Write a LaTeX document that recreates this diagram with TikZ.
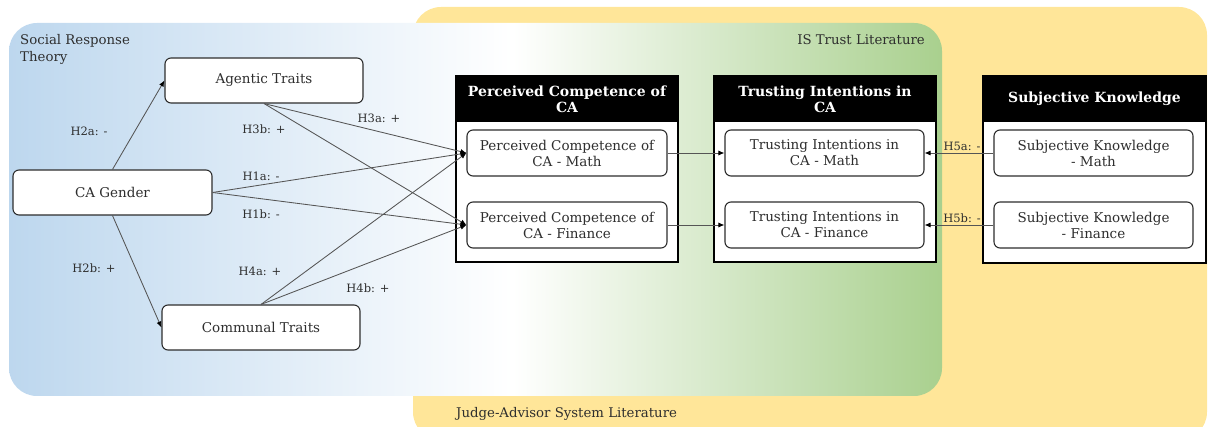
\documentclass[tikz,border=0pt]{standalone}
\usepackage{fontspec}
\setmainfont{DejaVu Serif}
\usetikzlibrary{arrows.meta}

\definecolor{bandblue}{HTML}{BDD7EE}
\definecolor{bandgreen}{HTML}{A9D08E}
\definecolor{jasyellow}{HTML}{FFE699}
\definecolor{inkgray}{HTML}{2E2E2E}
\definecolor{linegray}{HTML}{555555}

% blue -> white -> green band behind the left two research streams
\pgfdeclarehorizontalshading{trustband}{100bp}{color(0bp)=(bandblue); color(25bp)=(bandblue); color(52bp)=(white); color(75bp)=(bandgreen); color(100bp)=(bandgreen)}

\tikzset{
  basefont/.style={font=\fontsize{13.5}{16}\selectfont},
  construct/.style={basefont, draw=inkgray, line width=1.1pt, fill=white, rounded corners=6pt,
    text=inkgray, align=center, inner sep=2pt},
  groupbox/.style={draw=black, line width=1.3pt, fill=white, inner sep=0pt},
  headbox/.style={fill=black, text=white, align=center, inner sep=2pt,
    font=\fontsize{14}{16}\selectfont\bfseries},
  hyp/.style={font=\fontsize{11.5}{14}\selectfont, text=inkgray, inner sep=0pt},
  stream/.style={font=\fontsize{13.3}{17}\selectfont, text=inkgray, inner sep=0pt, align=left},
  conn/.style={draw=linegray, line width=0.85pt, -{Latex[length=6pt,width=5pt,color=black]}},
}

\begin{document}
\begin{tikzpicture}[x=1pt,y=-1pt]
\useasboundingbox (0,0) rectangle (1208,427);
\clip (0,0) rectangle (1208,427);

% research streams
\fill[jasyellow, rounded corners=28pt] (413,7) rectangle (1207,440);
\shade[shading=trustband, rounded corners=28pt] (9,23) rectangle (942,396);

\node[stream, anchor=north west] (srt) at (20,34) {Social Response\\Theory};
\node[stream, anchor=north east] (ist) at (925,34) {IS Trust Literature};
\node[stream, anchor=north west] (jas) at (456,407) {Judge-Advisor System Literature};

% group boxes with black headers
\node[groupbox, minimum width=222pt, minimum height=186pt] (pcbox) at (567,169) {};
\node[headbox, minimum width=222pt, minimum height=46pt] (pchead) at (567,99) {Perceived Competence of\\CA};
\node[groupbox, minimum width=222pt, minimum height=186pt] (tibox) at (825,169) {};
\node[headbox, minimum width=222pt, minimum height=46pt] (tihead) at (825,99) {Trusting Intentions in\\CA};
\node[groupbox, minimum width=223pt, minimum height=187pt] (skbox) at (1094.5,169.5) {};
\node[headbox, minimum width=223pt, minimum height=46pt] (skhead) at (1094.5,99) {Subjective Knowledge};

% constructs
\node[construct, minimum width=199pt, minimum height=45pt] (gender) at (112.5,192.5) {CA Gender};
\node[construct, minimum width=198pt, minimum height=45pt] (agentic) at (264,80.5) {Agentic Traits};
\node[construct, minimum width=198pt, minimum height=45pt] (communal) at (261,327.5) {Communal Traits};

\node[construct, minimum width=200pt, minimum height=46pt] (pcm) at (567,153) {Perceived Competence of\\CA - Math};
\node[construct, minimum width=200pt, minimum height=46pt] (pcf) at (567,225) {Perceived Competence of\\CA - Finance};
\node[construct, minimum width=199pt, minimum height=46pt] (tim) at (824.5,153) {Trusting Intentions in\\CA - Math};
\node[construct, minimum width=199pt, minimum height=46pt] (tif) at (824.5,225) {Trusting Intentions in\\CA - Finance};
\node[construct, minimum width=199pt, minimum height=46pt] (skm) at (1093.5,153) {Subjective Knowledge\\- Math};
\node[construct, minimum width=199pt, minimum height=46pt] (skf) at (1093.5,225) {Subjective Knowledge\\- Finance};

% hypothesised paths
\draw[conn] (gender.north) -- (agentic.west);
\draw[conn] (gender.south) -- (communal.west);
\draw[conn] (agentic.south) -- (pcm.west);
\draw[conn] (agentic.south) -- (pcf.west);
\draw[conn] (gender.east) -- (pcm.west);
\draw[conn] (gender.east) -- (pcf.west);
\draw[conn] (communal.north) -- (pcm.west);
\draw[conn] (communal.north) -- (pcf.west);
\draw[conn] (pcm.east) -- (tim.west);
\draw[conn] (pcf.east) -- (tif.west);
\draw[conn] (skm.west) -- (tim.east);
\draw[conn] (skf.west) -- (tif.east);

% hypothesis labels
\node[hyp] (h2a) at (89,131) {H2a: -};
\node[hyp] (h3b) at (264,129) {H3b: +};
\node[hyp] (h3a) at (379,118) {H3a: +};
\node[hyp] (h1a) at (261,176) {H1a: -};
\node[hyp] (h1b) at (261,214) {H1b: -};
\node[hyp] (h2b) at (94,268) {H2b: +};
\node[hyp] (h4a) at (260,271) {H4a: +};
\node[hyp] (h4b) at (368,288) {H4b: +};
\node[hyp] (h5a) at (962,146) {H5a: -};
\node[hyp] (h5b) at (962,218) {H5b: -};
\end{tikzpicture}
\end{document}
